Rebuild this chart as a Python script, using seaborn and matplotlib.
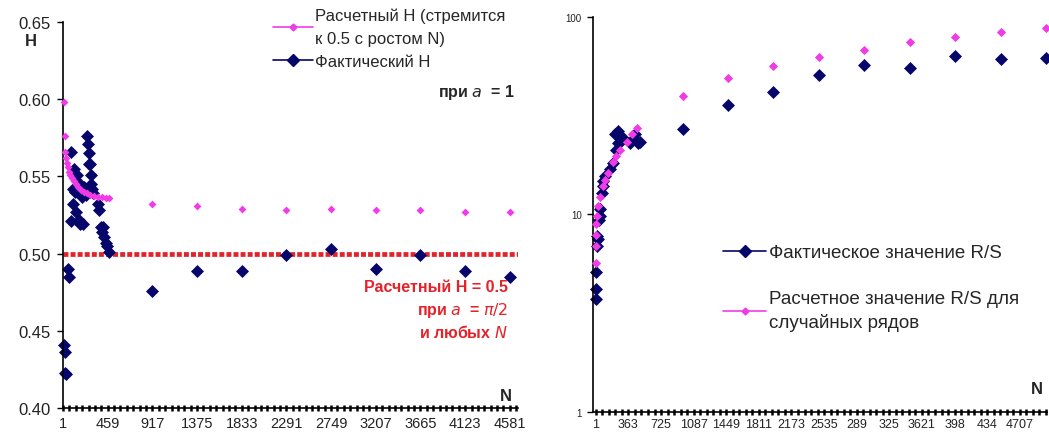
import matplotlib
matplotlib.use('Agg')
import matplotlib.pyplot as plt
from matplotlib.lines import Line2D
from matplotlib.ticker import FixedLocator, FixedFormatter, NullLocator
import numpy as np
import seaborn as sns

# ---- left panel: Hurst exponent H vs N ----
h_fact_n = [11, 16, 21, 31, 52, 62, 78, 85, 103, 108, 113, 124, 134, 144, 155, 165,
            170, 175, 186, 196, 206, 216, 237, 247, 257, 262, 268, 278, 283, 288,
            298, 303, 360, 370, 391, 401, 411, 421, 442, 452, 472,
            917, 1375, 1833, 2291, 2749, 3207, 3665, 4123, 4581]
h_fact = [0.441, 0.436, 0.423, 0.422, 0.490, 0.485, 0.521, 0.566, 0.542, 0.532, 0.555,
          0.540, 0.527, 0.551, 0.541, 0.522, 0.545, 0.519, 0.540, 0.537, 0.519, 0.543,
          0.538, 0.576, 0.571, 0.558, 0.565, 0.558, 0.551, 0.545, 0.542, 0.539,
          0.532, 0.528, 0.517, 0.514, 0.517, 0.511, 0.507, 0.505, 0.501,
          0.476, 0.489, 0.489, 0.499, 0.503, 0.490, 0.499, 0.489, 0.485]
h_calc_n = [11, 16, 26, 31, 41, 52, 62, 72, 92, 112, 133, 153, 183, 214, 244, 275,
            315, 356, 396, 437, 467,
            917, 1375, 1833, 2291, 2749, 3207, 3665, 4123, 4581]
h_calc = [0.598, 0.576, 0.566, 0.562, 0.559, 0.556, 0.553, 0.551, 0.549, 0.547, 0.545,
          0.543, 0.541, 0.540, 0.539, 0.538, 0.5375, 0.537, 0.5365, 0.536, 0.536,
          0.532, 0.531, 0.529, 0.528, 0.529, 0.528, 0.528, 0.527, 0.527]
h_ref = 0.5
left_ticks = [1, 459, 917, 1375, 1833, 2291, 2749, 3207, 3665, 4123, 4581]
left_labels = [str(v) for v in left_ticks]

# ---- right panel: R/S vs N (log scale) ----
rs_fact_n = [1, 3, 5, 12, 14, 20, 40, 45, 50, 70, 81, 85, 105, 159, 192, 215, 228,
             245, 250, 265, 275, 300, 383, 416, 438, 472, 492,
             969, 1469, 1968, 2479, 2978, 3489, 3988, 4499, 4998]
rs_fact = [3.72, 4.2, 5.1, 6.9, 7.8, 7.5, 9.4, 9.8, 10.6, 12.9, 14.7, 14.0, 15.6, 16.9,
           18.3, 25.5, 21.3, 26.3, 23.0, 25.0, 23.2, 24.5, 23.1, 24.0, 25.4, 23.1, 23.2,
           27.0, 35.8, 41.6, 50.8, 57.1, 55.1, 63.4, 61.2, 61.9]
rs_calc_n = [1, 2, 4, 6, 14, 25, 48, 81, 103, 137, 192, 225, 270, 347, 403, 458,
             969, 1469, 1968, 2479, 2978, 3489, 3988, 4499, 4998]
rs_calc = [5.7, 6.9, 7.9, 8.9, 9.8, 11.0, 12.2, 13.9, 15.0, 16.3, 18.5, 19.8, 21.3,
           23.4, 25.5, 27.5,
           39.7, 49.0, 56.4, 62.7, 68.0, 74.6, 79.1, 83.9, 87.9]
right_ticks = [1, 363, 725, 1087, 1449, 1811, 2173, 2535, 2897, 3259, 3621, 3983, 4345, 4707]
right_labels = ['1', '363', '725', '1087', '1449', '1811', '2173', '2535', '289',
                '325', '3621', '398', '434', '4707']

NAVY = '#06066a'
PINK = '#f03ce6'
RED = '#e3222a'

sns.set_style('white')
plt.rcParams['font.family'] = ['Liberation Sans', 'DejaVu Sans']

fig = plt.figure(figsize=(10.49, 4.39), dpi=100)
ax1 = fig.add_axes([0.0601, 0.0683, 0.4337, 0.879])
ax2 = fig.add_axes([0.5653, 0.0592, 0.4328, 0.900])

# left
ax1.axhline(h_ref, color=RED, lw=3.4, dashes=(1.05, 0.45), dash_capstyle='butt', zorder=1)
sns.scatterplot(x=h_calc_n, y=h_calc, ax=ax1, marker='D', s=16, color=PINK,
                linewidth=0, legend=False, zorder=3, clip_on=False)
sns.scatterplot(x=h_fact_n, y=h_fact, ax=ax1, marker='D', s=44, color=NAVY,
                linewidth=0, legend=False, zorder=2, clip_on=False)
ax1.set_xlim(1, 4665)
ax1.set_ylim(0.40, 0.65)
ax1.set_yticks(np.arange(0.40, 0.651, 0.05))
ax1.set_yticklabels([f'{v:.2f}' for v in np.arange(0.40, 0.651, 0.05)])
ax1.xaxis.set_major_locator(FixedLocator(left_ticks))
ax1.xaxis.set_major_formatter(FixedFormatter(left_labels))
ax1.xaxis.set_minor_locator(FixedLocator(np.arange(1, 4665, 458 / 7)))

# right
sns.scatterplot(x=rs_fact_n, y=rs_fact, ax=ax2, marker='D', s=44, color=NAVY,
                linewidth=0, legend=False, zorder=2, clip_on=False)
sns.scatterplot(x=rs_calc_n, y=rs_calc, ax=ax2, marker='D', s=22, color=PINK,
                linewidth=0, legend=False, zorder=3, clip_on=False)
ax2.set_yscale('log')
ax2.set_ylim(1, 100)
ax2.set_xlim(-30, 5009)
ax2.yaxis.set_major_locator(FixedLocator([1, 10, 100]))
ax2.yaxis.set_major_formatter(FixedFormatter(['1', '10', '100']))
ax2.yaxis.set_minor_locator(NullLocator())
ax2.xaxis.set_major_locator(FixedLocator(right_ticks))
ax2.xaxis.set_major_formatter(FixedFormatter(right_labels))
ax2.xaxis.set_minor_locator(FixedLocator(np.arange(1, 5009, 362 / 5)))

for ax in (ax1, ax2):
    for side in ('top', 'right'):
        ax.spines[side].set_visible(False)
    for side in ('left', 'bottom'):
        ax.spines[side].set_color('black')
        ax.spines[side].set_linewidth(1.2)
    ax.tick_params(axis='y', which='major', direction='out', length=4, width=1,
                   color='black', left=True)
    ax.tick_params(axis='x', which='both', direction='inout', length=4, width=1.8,
                   color='black', bottom=True)
    ax.set_xlabel('')
    ax.set_ylabel('')

ax1.tick_params(axis='y', labelsize=12, labelcolor='#222222', pad=5)
ax1.tick_params(axis='x', labelsize=10.5, labelcolor='#222222', pad=3.5)
ax2.tick_params(axis='x', labelsize=9, labelcolor='#222222', pad=2.5)
ax2.tick_params(axis='y', labelsize=7, labelcolor='#222222', pad=4)

# annotations, left
fig.text(31 / 1049, 1 - 41 / 439, 'H', fontsize=12, fontweight='bold', ha='center', va='center')
fig.text(506 / 1049, 1 - 397 / 439, 'N', fontsize=12, fontweight='bold', ha='center', va='center')
fig.text(515 / 1049, 1 - 93 / 439, r'при $\it{a}$  = 1', fontsize=11.5, fontweight='bold',
         ha='right', va='center')
red_lines = ['Расчетный H = 0.5', r'при $\it{a}$  = $\pi/2$', r'и любых $\it{N}$']
for i, line in enumerate(red_lines):
    fig.text(508 / 1049, 1 - (288 + 22.5 * i) / 439, line, fontsize=11.5, fontweight='bold',
             color=RED, ha='right', va='center')

left_handles = [Line2D([], [], color=PINK, lw=1.2, marker='D', markersize=3.5),
                Line2D([], [], color=NAVY, lw=1.2, marker='D', markersize=6.5)]
leg1 = ax1.legend(left_handles, ['Расчетный H (стремится\nк 0.5 с ростом N)', 'Фактический H'],
                  loc='upper left', bbox_to_anchor=(273 / 1049, 1 - 9 / 439),
                  bbox_transform=fig.transFigure, frameon=False, fontsize=12,
                  handlelength=2.4, handletextpad=0.12, labelspacing=0.45, borderpad=0,
                  borderaxespad=0)
for t in leg1.get_texts():
    t.set_linespacing(1.65)

# annotations, right
fig.text(1037 / 1049, 1 - 390 / 439, 'N', fontsize=12, fontweight='bold', ha='center', va='center')
right_handles = [Line2D([], [], color=NAVY, lw=1.2, marker='D', markersize=6),
                 Line2D([], [], color=PINK, lw=1.2, marker='D', markersize=3.5)]
leg2 = ax2.legend(right_handles, ['Фактическое значение R/S',
                                  'Расчетное значение R/S для\nслучайных рядов'],
                  loc='upper left', bbox_to_anchor=(723 / 1049, 1 - 245 / 439),
                  bbox_transform=fig.transFigure, frameon=False, fontsize=13.5,
                  handlelength=2.3, handletextpad=0.15, labelspacing=1.55, borderpad=0,
                  borderaxespad=0)
for t in leg2.get_texts():
    t.set_linespacing(1.45)

fig.savefig('out.png', dpi=100)
plt.close(fig)
